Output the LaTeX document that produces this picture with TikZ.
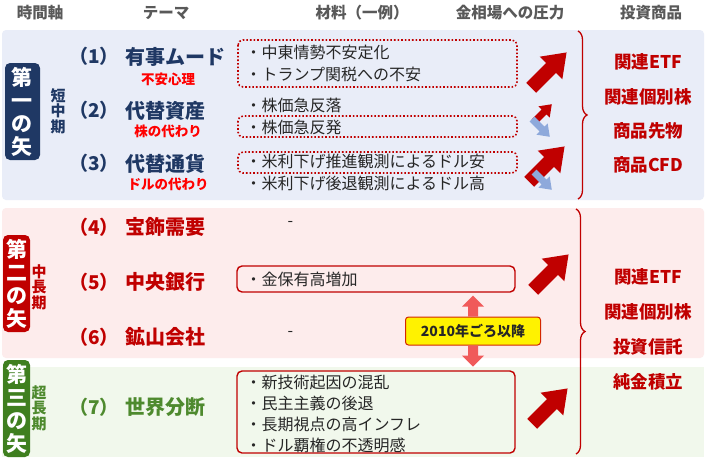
\documentclass[tikz,border=0pt]{standalone}
\usepackage{fontspec}
\setmainfont{Noto Sans CJK JP}
\usetikzlibrary{decorations.pathreplacing}
\definecolor{navy}{HTML}{1F3864}
\definecolor{dred}{HTML}{C00000}
\definecolor{bred}{HTML}{FF0000}
\definecolor{dgreen}{HTML}{4E8A2E}
\definecolor{gbox}{HTML}{3F7F1F}
\definecolor{pblue}{HTML}{E9EDF8}
\definecolor{ppink}{HTML}{FDECEC}
\definecolor{pgreen}{HTML}{F1F8EC}
\definecolor{lblue}{HTML}{8EA9DB}
\definecolor{hgray}{HTML}{595959}
\definecolor{tgray}{HTML}{262626}
\definecolor{pkarrow}{HTML}{F05A5A}
\newcommand{\blockarrow}[5]{%
 \fill[#5,shift={(#1,#2)},rotate=#3,scale=#4] (-28,-7) -- (0,-7) -- (0,-16) -- (22,0) -- (0,16) -- (0,7) -- (-28,7) -- cycle;}
\begin{document}
\begin{tikzpicture}[x=1pt,y=-1pt,
 hdr/.style={font=\bfseries\fontsize{15.5}{16}\selectfont,text=hgray},
 num/.style={font=\bfseries\fontsize{19}{19}\selectfont},
 theme/.style={font=\bfseries\fontsize{20}{20}\selectfont,anchor=west},
 sub/.style={font=\bfseries\fontsize{13.5}{14}\selectfont,text=bred},
 item/.style={font=\fontsize{16}{16}\selectfont,text=tgray,anchor=west},
 prod/.style={font=\bfseries\fontsize{17.5}{18}\selectfont,text=dred},
 dotbox/.style={draw=dred,line width=1.6pt,dotted,rounded corners=5pt},
 solbox/.style={draw=dred,line width=1.4pt,rounded corners=5pt},
 vlab/.style={rounded corners=5pt,text=white,font=\bfseries\fontsize{21}{23}\selectfont,align=center,inner sep=1pt},
 vsub/.style={font=\bfseries\fontsize{15}{15.5}\selectfont,align=center}]
\useasboundingbox (0,0) rectangle (706,464);
\fill[white] (0,0) rectangle (706,464);
% panels
\fill[pblue,rounded corners=4pt] (2,30) rectangle (704,200);
\fill[ppink,rounded corners=4pt] (2,208) rectangle (704,358);
\fill[pgreen] (2,367) rectangle (704,457);
% headers
\node[hdr] (h1) at (40,13) {時間軸};
\node[hdr] (h2) at (166,13) {テーマ};
\node[hdr] (h3) at (362,13) {材料（一例）};
\node[hdr] (h4) at (510,13) {金相場への圧力};
\node[hdr] (h5) at (651,13) {投資商品};
% left labels
\node[vlab,fill=navy,minimum width=35pt,minimum height=97pt] (a1) at (22.5,111.5) {第\\一\\の\\矢};
\node[vsub,text=navy] (s1) at (58,111) {短\\中\\期};
\node[vlab,fill=dred,minimum width=27pt,minimum height=97pt] (a2) at (16.5,283.5) {第\\二\\の\\矢};
\node[vsub,text=dred] (s2) at (39,287) {中\\長\\期};
\node[vlab,fill=gbox,minimum width=27pt,minimum height=97pt] (a3) at (16.5,408.5) {第\\三\\の\\矢};
\node[vsub,text=dgreen] (s3) at (39,408) {超\\長\\期};
% numbers and themes
\node[num,text=navy] (n1) at (94,56) {（1）};
\node[theme,text=navy] (t1) at (122,57) {有事ムード};
\node[sub] (u1) at (168,79) {不安心理};
\node[num,text=navy] (n2) at (94,110) {（2）};
\node[theme,text=navy] (t2) at (122,111) {代替資産};
\node[sub] (u2) at (168,131) {株の代わり};
\node[num,text=navy] (n3) at (94,163) {（3）};
\node[theme,text=navy] (t3) at (122,164) {代替通貨};
\node[sub] (u3) at (168,184) {ドルの代わり};
\node[num,text=dred] (n4) at (94,227) {（4）};
\node[theme,text=dred] (t4) at (122,227) {宝飾需要};
\node[num,text=dred] (n5) at (94,282) {（5）};
\node[theme,text=dred] (t5) at (122,282) {中央銀行};
\node[num,text=dred] (n6) at (94,337) {（6）};
\node[theme,text=dred] (t6) at (122,337) {鉱山会社};
\node[num,text=dgreen] (n7) at (94,407) {（7）};
\node[theme,text=dgreen] (t7) at (122,407) {世界分断};
% boxes
\draw[dotbox] (238,40) rectangle (517,87);
\draw[dotbox] (238,116) rectangle (517,137);
\draw[dotbox] (238,152) rectangle (517,173);
\draw[solbox] (237,266) rectangle (515,292);
\draw[solbox] (237,371) rectangle (515,453);
% items
\node[item] (i1) at (242,52) {・中東情勢不安定化};
\node[item] (i2) at (242,74) {・トランプ関税への不安};
\node[item] (i3) at (242,105) {・株価急反落};
\node[item] (i4) at (242,127) {・株価急反発};
\node[item] (i5) at (242,161) {・米利下げ推進観測によるドル安};
\node[item] (i6) at (242,183) {・米利下げ後退観測によるドル高};
\node[item] (d4) at (284,224) {-};
\node[item] (i7) at (242,279) {・金保有高増加};
\node[item] (d6) at (284,334) {-};
\node[item] (i8) at (242,382) {・新技術起因の混乱};
\node[item] (i9) at (242,403) {・民主主義の後退};
\node[item] (i10) at (242,424) {・長期視点の高インフレ};
\node[item] (i11) at (242,445) {・ドル覇権の不透明感};
% pressure arrows
\blockarrow{551}{68}{45}{1}{dred}
\blockarrow{544}{112}{45}{0.5}{dred}
\blockarrow{542}{129}{-45}{0.5}{lblue}
\blockarrow{549}{162}{45}{1}{dred}
\blockarrow{544}{182}{-45}{0.5}{lblue}
\blockarrow{553}{270}{45}{1}{dred}
\blockarrow{552}{404}{45}{1}{dred}
% 2010 label
\node[draw=dred!70!orange,fill=yellow,rounded corners=3pt,line width=1pt,minimum width=135pt,minimum height=28pt,font=\bfseries\fontsize{14}{14}\selectfont,text=tgray] (y) at (473,331) {2010年ごろ以降};
\fill[pkarrow] ([xshift=-5pt]y.north) -- ++(0,-10) -- ++(-6,0) -- ++(11,-11) -- ++(11,11) -- ++(-6,0) -- ++(0,10) -- cycle;
\fill[pkarrow] ([xshift=-5pt]y.south) -- ++(0,10) -- ++(-6,0) -- ++(11,11) -- ++(11,-11) -- ++(-6,0) -- ++(0,-10) -- cycle;
% braces
\coordinate (b1t) at (578,31); \coordinate (b1b) at (578,199);
\draw[dred,line width=1.3pt,decorate,decoration={brace,amplitude=9pt}] (b1t) -- (b1b);
\coordinate (b2t) at (576,209); \coordinate (b2b) at (576,454);
\draw[dred,line width=1.3pt,decorate,decoration={brace,amplitude=9pt}] (b2t) -- (b2b);
% products
\node[prod] (q1) at (648,62) {関連ETF};
\node[prod] (q2) at (648,97) {関連個別株};
\node[prod] (q3) at (648,131) {商品先物};
\node[prod] (q4) at (648,165) {商品CFD};
\node[prod] (q5) at (648,277) {関連ETF};
\node[prod] (q6) at (648,312) {関連個別株};
\node[prod] (q7) at (648,347) {投資信託};
\node[prod] (q8) at (648,382) {純金積立};
\end{tikzpicture}
\end{document}
